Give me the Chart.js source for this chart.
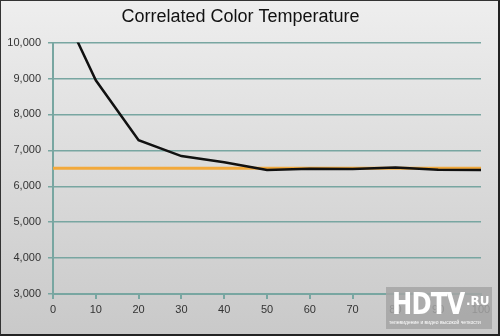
<!DOCTYPE html>
<html>
<head>
<meta charset="utf-8">
<script src="https://cdn.jsdelivr.net/npm/chart.js@4/dist/chart.umd.min.js"></script>
<style>
  html, body { margin: 0; padding: 0; }
  #frame {
    position: relative; width: 500px; height: 336px; box-sizing: border-box;
    border: 1px solid #333; border-right: 2px solid #222; border-bottom: 2px solid #222;
    background: linear-gradient(#eeeeee, #c9c9c9);
    overflow: hidden;
  }
  #chart { position: absolute; left: -1px; top: -1px; }
  #logo {
    position: absolute; left: 385px; top: 286px; width: 106px; height: 42px;
    background: rgba(165,165,165,0.85); font-family: "Liberation Sans", Arial, sans-serif;
  }
  #logo .big { position: absolute; left: 6px; top: -2px; color: #fff; font: bold 31px "DejaVu Sans", sans-serif;
    letter-spacing: -1px; transform: scaleX(0.78); transform-origin: left top; }
  #logo .ru { position: absolute; left: 80px; top: 7px; color: #fff; font: bold 12px "DejaVu Sans", sans-serif; }
  #logo .cap { position: absolute; left: 3px; top: 32px; color: #fff; font-size: 5px; white-space: nowrap; }
</style>
</head>
<body>
<div id="frame">
  <canvas id="chart" width="500" height="336"></canvas>
  <div id="logo"><span class="big">HDTV</span><span class="ru">.RU</span><span class="cap">телевидение и видео высокой четкости</span></div>
</div>
<script>
// chart data
const xValues = [0, 10, 20, 30, 40, 50, 60, 70, 80, 90, 100];
const cctValues = [11480, 8950, 7280, 6840, 6670, 6450, 6490, 6480, 6520, 6460, 6450];
const targetX = [0, 100];
const targetCct = [6500, 6500];

const gridColor = '#78a6a1';
const tickFont = { family: 'Liberation Sans, Arial, sans-serif', size: 11 };

new Chart(document.getElementById('chart'), {
  type: 'line',
  data: {
    datasets: [
      {
        label: 'Measured',
        data: xValues.map((x, i) => ({ x, y: cctValues[i] })),
        borderColor: '#111',
        borderWidth: 2.5,
        pointRadius: 0,
        tension: 0,
        order: 1
      },
      {
        label: 'D65',
        data: targetX.map((x, i) => ({ x, y: targetCct[i] })),
        borderColor: '#f2a93b',
        borderWidth: 3,
        pointRadius: 0,
        order: 2
      }
    ]
  },
  options: {
    responsive: false,
    animation: false,
    layout: { padding: { left: 0, right: 19, top: 0, bottom: 0 } },
    plugins: {
      legend: { display: false },
      tooltip: { enabled: false },
      title: {
        display: true,
        text: 'Correlated Color Temperature',
        color: '#111',
        font: { family: 'Liberation Sans, Arial, sans-serif', size: 18, weight: 'normal' },
        padding: { top: 6, bottom: 15 }
      }
    },
    scales: {
      x: {
        type: 'linear', min: 0, max: 100,
        afterFit: s => { s.height = 42; },
        ticks: { stepSize: 10, color: '#333', font: tickFont, padding: 4 },
        grid: { drawOnChartArea: false, color: gridColor, lineWidth: 2, tickLength: 5 },
        border: { color: gridColor, width: 2 }
      },
      y: {
        min: 3000, max: 10000,
        afterFit: s => { s.width = 53; },
        ticks: { stepSize: 1000, color: '#333', font: tickFont, padding: 7 },
        grid: { color: gridColor, lineWidth: 1.5, tickLength: 5 },
        border: { color: gridColor, width: 2 }
      }
    }
  }
});
</script>
</body>
</html>
